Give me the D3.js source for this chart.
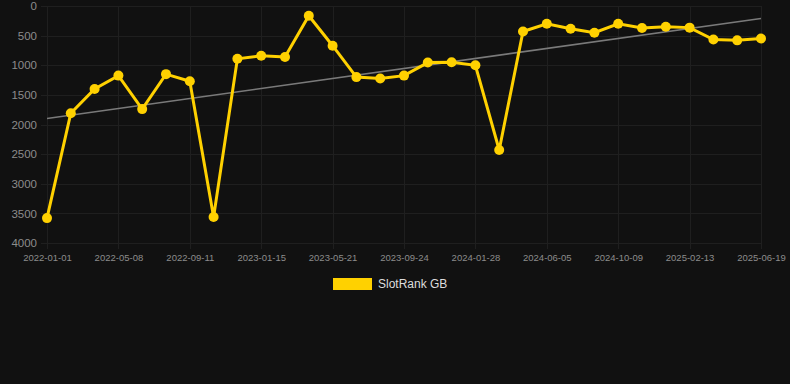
<!DOCTYPE html>
<html>
<head>
<meta charset="utf-8">
<script src="https://cdn.jsdelivr.net/npm/d3@7"></script>
<style>
  html, body { margin: 0; padding: 0; background: #111111; }
  svg { display: block; font-family: "Liberation Sans", Arial, sans-serif; }
</style>
</head>
<body>
<svg id="chart"></svg>
<script>
// dates (every 3rd one is shown on the axis)
const dates = [
  "2022-01-01", "2022-02-12", "2022-03-26", "2022-05-08", "2022-06-19", "2022-07-31",
  "2022-09-11", "2022-10-23", "2022-12-04", "2023-01-15", "2023-02-26", "2023-04-09",
  "2023-05-21", "2023-07-02", "2023-08-13", "2023-09-24", "2023-11-05", "2023-12-17",
  "2024-01-28", "2024-03-11", "2024-04-23", "2024-06-05", "2024-07-17", "2024-08-28",
  "2024-10-09", "2024-11-20", "2025-01-01", "2025-02-13", "2025-03-27", "2025-05-08",
  "2025-06-19"
];
const ranks = [
  3580, 1810, 1400, 1175, 1740, 1150, 1270, 3560, 890, 840, 860, 165,
  670, 1200, 1225, 1175, 955, 950, 1000, 2430, 430, 300, 385, 450,
  300, 370, 350, 365, 565, 580, 550
];
const yTicks = [0, 500, 1000, 1500, 2000, 2500, 3000, 3500, 4000];
const seriesName = "SlotRank GB";

const width = 790, height = 384;
const margin = {top: 6, right: 29, bottom: 141, left: 47};

const svg = d3.select("#chart")
  .attr("width", width)
  .attr("height", height);

let x = d3.scalePoint()
  .domain(d3.range(dates.length))
  .range([margin.left, width - margin.right]);

let y = d3.scaleLinear()
  .domain([0, 4000])
  .range([margin.top, height - margin.bottom]);

const shownIdx = d3.range(0, dates.length, 3);

// grid
svg.append("g")
  .attr("stroke", "#1f1f1f")
  .attr("stroke-width", 1)
  .call(g => g.selectAll("line.h")
    .data(yTicks)
    .join("line")
      .attr("x1", margin.left - 6)
      .attr("x2", width - margin.right)
      .attr("y1", d => Math.round(y(d)) + 0.5)
      .attr("y2", d => Math.round(y(d)) + 0.5))
  .call(g => g.selectAll("line.v")
    .data(shownIdx)
    .join("line")
      .attr("x1", d => Math.round(x(d)) + 0.5)
      .attr("x2", d => Math.round(x(d)) + 0.5)
      .attr("y1", y(0))
      .attr("y2", y(4000) + 6));

// y axis
let yAxis = g => g
  .attr("transform", `translate(${margin.left - 10},0)`)
  .call(d3.axisLeft(y).tickValues(yTicks).tickFormat(d3.format("d")).tickSize(0).tickPadding(0))
  .call(g => g.select(".domain").remove())
  .call(g => g.selectAll("text")
    .attr("fill", "#8c8c8c")
    .attr("font-size", "11.5px"));

// x axis
let xAxis = g => g
  .attr("transform", `translate(0,${y(4000) + 7})`)
  .call(d3.axisBottom(x).tickValues(shownIdx).tickFormat(i => dates[i]).tickSize(0).tickPadding(4))
  .call(g => g.select(".domain").remove())
  .call(g => g.selectAll("text")
    .attr("fill", "#8c8c8c")
    .attr("font-size", "9.5px"));

svg.append("g").call(yAxis);
svg.append("g").call(xAxis);

// trend line (least squares)
const n = ranks.length;
const mx = d3.mean(d3.range(n));
const my = d3.mean(ranks);
const slope = d3.sum(d3.range(n), i => (i - mx) * (ranks[i] - my)) /
              d3.sum(d3.range(n), i => (i - mx) * (i - mx));
const icpt = my - slope * mx;

svg.append("line")
  .attr("x1", x(0))
  .attr("y1", y(icpt))
  .attr("x2", x(n - 1))
  .attr("y2", y(icpt + slope * (n - 1)))
  .attr("stroke", "#7a7a7a")
  .attr("stroke-width", 1.6);

// series
const line = d3.line()
  .x((d, i) => x(i))
  .y(d => y(d));

svg.append("path")
  .datum(ranks)
  .attr("fill", "none")
  .attr("stroke", "#FFD100")
  .attr("stroke-width", 3)
  .attr("stroke-linejoin", "miter")
  .attr("d", line);

svg.append("g")
  .attr("fill", "#FFD100")
  .selectAll("circle")
  .data(ranks)
  .join("circle")
    .attr("cx", (d, i) => x(i))
    .attr("cy", d => y(d))
    .attr("r", 5);

// legend
const legend = svg.append("g").attr("transform", "translate(333,278)");
legend.append("rect")
  .attr("width", 39)
  .attr("height", 12)
  .attr("fill", "#FFD100");
legend.append("text")
  .attr("x", 45)
  .attr("y", 10)
  .attr("fill", "#dddddd")
  .attr("font-size", "12px")
  .text(seriesName);
</script>
</body>
</html>
